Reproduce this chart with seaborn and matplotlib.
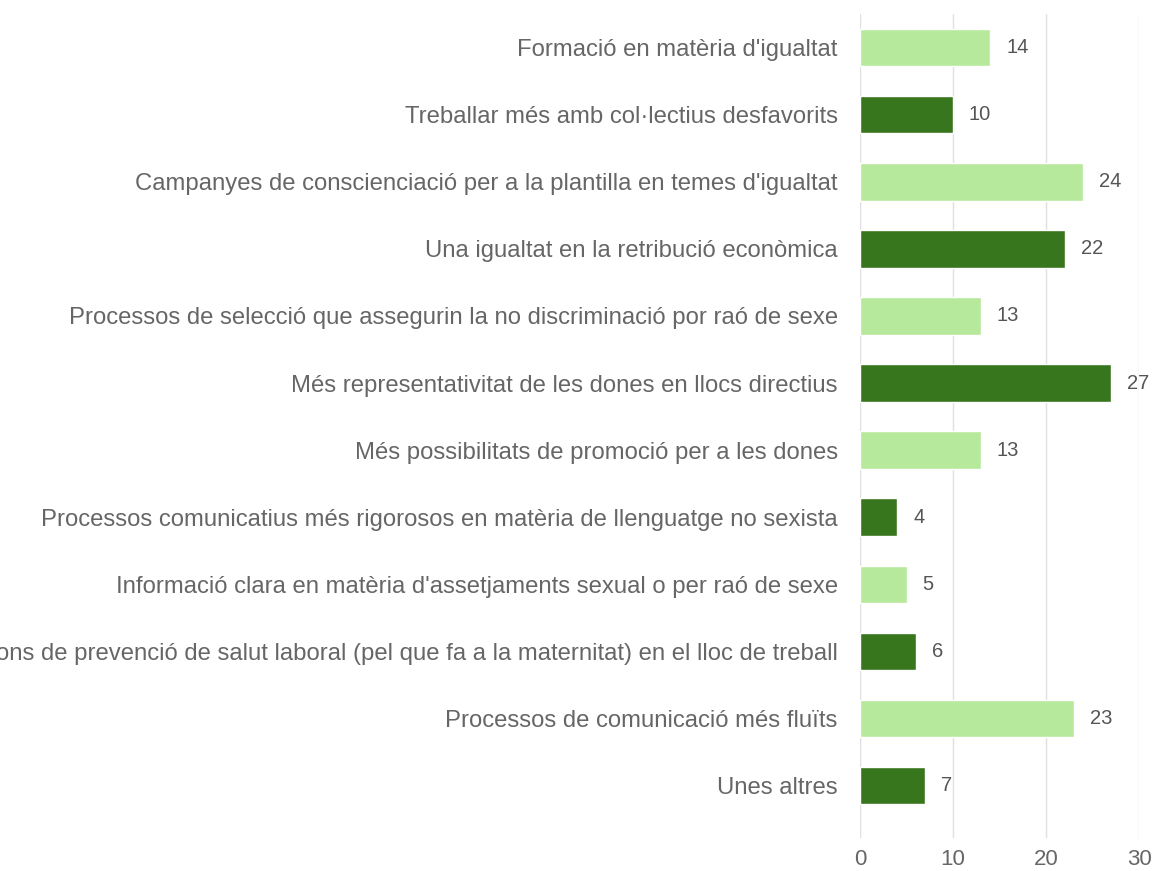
import matplotlib
matplotlib.use("Agg")
import matplotlib.pyplot as plt
import seaborn as sns
import pandas as pd

categories = [
    "Formació en matèria d'igualtat",
    "Treballar més amb col·lectius desfavorits",
    "Campanyes de conscienciació per a la plantilla en temes d'igualtat",
    "Una igualtat en la retribució econòmica",
    "Processos de selecció que assegurin la no discriminació por raó de sexe",
    "Més representativitat de les dones en llocs directius",
    "Més possibilitats de promoció per a les dones",
    "Processos comunicatius més rigorosos en matèria de llenguatge no sexista",
    "Informació clara en matèria d'assetjaments sexual o per raó de sexe",
    "Accions de prevenció de salut laboral (pel que fa a la maternitat) en el lloc de treball",
    "Processos de comunicació més fluïts",
    "Unes altres",
]
values = [14, 10, 24, 22, 13, 27, 13, 4, 5, 6, 23, 7]
xticks = [0, 10, 20, 30]

light_green = "#b6e99b"
dark_green = "#38761d"
bar_colors = [light_green if i % 2 == 0 else dark_green for i in range(len(categories))]

df = pd.DataFrame({"categoria": categories, "valor": values})

sns.set_theme(style="white")
plt.rcParams["font.family"] = ["Liberation Sans", "DejaVu Sans"]

fig = plt.figure(figsize=(11.56, 8.71), dpi=100)
ax = fig.add_axes([860 / 1156, 33 / 871, 279 / 1156, 824 / 871])

sns.barplot(data=df, x="valor", y="categoria", hue="categoria",
            palette=bar_colors, legend=False, width=0.56, ax=ax,
            orient="h", saturation=1)

ax.set_xlim(0, 30)
ax.set_ylim(11.78, -0.5)
ax.set_xticks(xticks)
ax.set_xticklabels([str(t) for t in xticks])
ax.grid(axis="x", color="#e0e0e0", linewidth=1)
ax.set_axisbelow(True)
for s in ax.spines.values():
    s.set_visible(False)
ax.set_xlabel("")
ax.set_ylabel("")
ax.tick_params(axis="x", colors="#666666", labelsize=16, length=0, pad=8)
ax.tick_params(axis="y", colors="#666666", labelsize=17.2, length=0, pad=16)

for i, v in enumerate(values):
    ax.annotate(str(v), xy=(v, i), xytext=(11.5, 0), textcoords="offset points",
                va="center", ha="left", fontsize=14.5, color="#555555")

fig.savefig("out.png", dpi=100)
